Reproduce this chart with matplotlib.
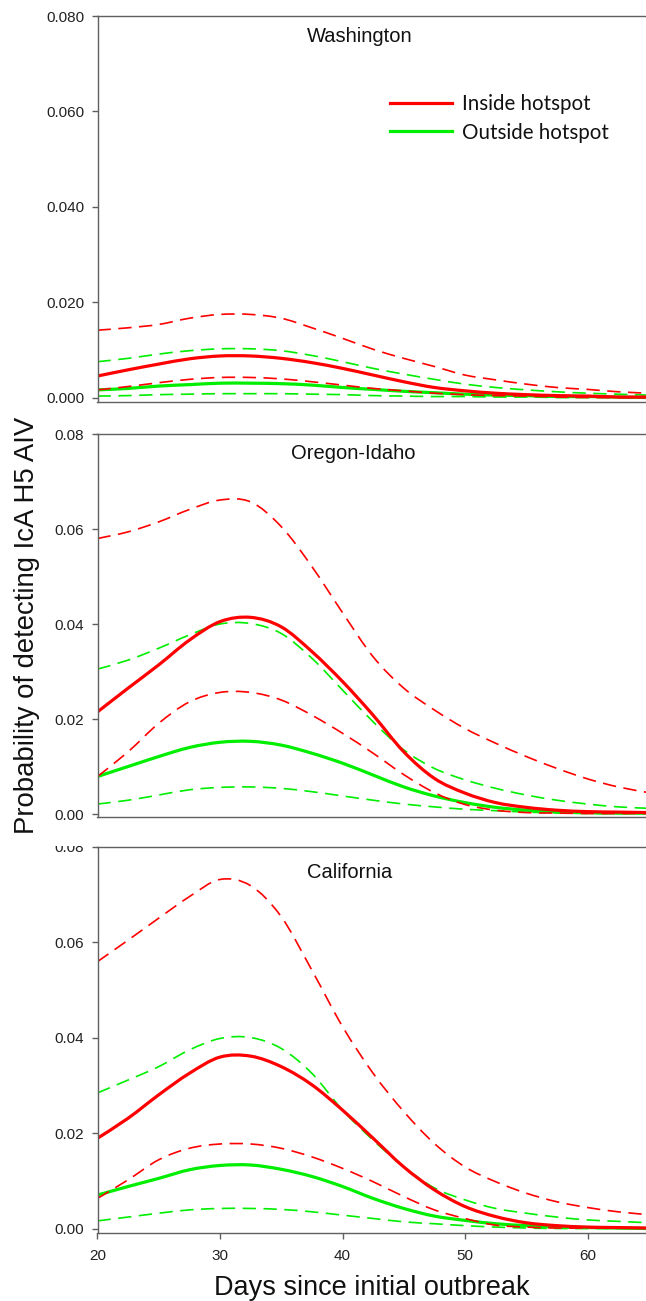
import matplotlib
matplotlib.use("Agg")
import matplotlib.pyplot as plt
from matplotlib.patches import Rectangle, PathPatch
from matplotlib.path import Path
from matplotlib.lines import Line2D

# ---------- data ----------
days = [20, 22.5, 25, 27.5, 30, 32.5, 35, 37.5, 40, 42.5, 45, 47.5, 50,
        52.5, 55, 57.5, 60, 62.5, 65]

# Washington
wa_in = [0.0046, 0.0059, 0.0071, 0.0082, 0.0088, 0.0088, 0.0083, 0.0074, 0.0062, 0.0048,
         0.0034, 0.0022, 0.0015, 0.0010, 0.0007, 0.0005, 0.0004, 0.0002, 0.0002]
wa_in_hi = [0.0142, 0.0147, 0.0154, 0.0167, 0.0175, 0.0175, 0.0167, 0.0147, 0.0125, 0.0102,
            0.0083, 0.0066, 0.0048, 0.0038, 0.0029, 0.0022, 0.0018, 0.0013, 0.0010]
wa_in_lo = [0.0017, 0.0024, 0.0032, 0.0039, 0.0043, 0.0043, 0.0040, 0.0034, 0.0027, 0.0020,
            0.0015, 0.0010, 0.0007, 0.0005, 0.0004, 0.0002, 0.0001, 0.0001, 0.0001]
wa_out = [0.0017, 0.0020, 0.0025, 0.0028, 0.0031, 0.0031, 0.0030, 0.0027, 0.0022, 0.0018,
          0.0014, 0.0011, 0.0008, 0.0006, 0.0005, 0.0003, 0.0003, 0.0002, 0.0001]
wa_out_hi = [0.0076, 0.0083, 0.0092, 0.0099, 0.0103, 0.0103, 0.0099, 0.0089, 0.0076, 0.0062,
             0.0050, 0.0039, 0.0029, 0.0022, 0.0017, 0.0013, 0.0010, 0.0008, 0.0006]
wa_out_lo = [0.0004, 0.0005, 0.0007, 0.0008, 0.0009, 0.0009, 0.0009, 0.0008, 0.0007, 0.0005,
             0.0004, 0.0003, 0.0003, 0.0002, 0.0002, 0.0001, 0.0001, 0.0001, 0.0000]

# Oregon-Idaho
or_in = [0.0215, 0.0265, 0.0314, 0.0366, 0.0405, 0.0414, 0.0394, 0.0342, 0.0279, 0.0208,
         0.0131, 0.0075, 0.0044, 0.0024, 0.0014, 0.0008, 0.0005, 0.0004, 0.0003]
or_in_hi = [0.0580, 0.0594, 0.0615, 0.0641, 0.0661, 0.0657, 0.0605, 0.0521, 0.0424, 0.0331,
            0.0265, 0.0219, 0.0180, 0.0149, 0.0121, 0.0096, 0.0074, 0.0057, 0.0045]
or_in_lo = [0.0079, 0.0131, 0.0191, 0.0236, 0.0256, 0.0256, 0.0240, 0.0208, 0.0170, 0.0128,
            0.0083, 0.0045, 0.0020, 0.0008, 0.0003, 0.0002, 0.0001, 0.0001, 0.0001]
or_out = [0.0079, 0.0100, 0.0121, 0.0140, 0.0151, 0.0153, 0.0145, 0.0128, 0.0107, 0.0082,
          0.0057, 0.0038, 0.0024, 0.0014, 0.0008, 0.0005, 0.0003, 0.0002, 0.0002]
or_out_hi = [0.0305, 0.0324, 0.0349, 0.0377, 0.0400, 0.0401, 0.0380, 0.0328, 0.0261, 0.0194,
             0.0135, 0.0096, 0.0072, 0.0054, 0.0040, 0.0029, 0.0021, 0.0015, 0.0012]
or_out_lo = [0.0021, 0.0029, 0.0040, 0.0051, 0.0056, 0.0057, 0.0054, 0.0047, 0.0038, 0.0029,
             0.0021, 0.0015, 0.0010, 0.0007, 0.0004, 0.0002, 0.0001, 0.0001, 0.0001]

# California
ca_in = [0.0190, 0.0232, 0.0281, 0.0326, 0.0360, 0.0362, 0.0340, 0.0302, 0.0249, 0.0190,
         0.0130, 0.0082, 0.0047, 0.0026, 0.0013, 0.0007, 0.0004, 0.0003, 0.0002]
ca_in_hi = [0.0560, 0.0605, 0.0651, 0.0696, 0.0732, 0.0719, 0.0654, 0.0542, 0.0424, 0.0326,
            0.0246, 0.0179, 0.0130, 0.0099, 0.0075, 0.0057, 0.0045, 0.0036, 0.0030]
ca_in_lo = [0.0064, 0.0103, 0.0145, 0.0169, 0.0178, 0.0178, 0.0169, 0.0151, 0.0127, 0.0099,
            0.0068, 0.0040, 0.0022, 0.0008, 0.0004, 0.0002, 0.0002, 0.0002, 0.0002]
ca_out = [0.0071, 0.0089, 0.0106, 0.0124, 0.0133, 0.0134, 0.0125, 0.0110, 0.0089, 0.0064,
          0.0043, 0.0027, 0.0018, 0.0011, 0.0007, 0.0004, 0.0003, 0.0002, 0.0001]
ca_out_hi = [0.0285, 0.0312, 0.0340, 0.0375, 0.0399, 0.0401, 0.0378, 0.0326, 0.0249, 0.0186,
             0.0130, 0.0086, 0.0061, 0.0043, 0.0033, 0.0025, 0.0019, 0.0016, 0.0013]
ca_out_lo = [0.0017, 0.0025, 0.0033, 0.0040, 0.0043, 0.0043, 0.0041, 0.0036, 0.0029, 0.0022,
             0.0015, 0.0011, 0.0007, 0.0004, 0.0002, 0.0001, 0.0001, 0.0001, 0.0001]

regions = ["Washington", "Oregon-Idaho", "California"]
yticks = [0.0, 0.02, 0.04, 0.06, 0.08]
xticks = [20, 30, 40, 50, 60]

RED = "#ff0000"
GREEN = "#00ee00"
SPINE = "#606060"

plt.rcParams['font.family'] = ['Liberation Sans', 'DejaVu Sans']

W, H = 646, 1301
fig = plt.figure(figsize=(W / 100, H / 100), dpi=100)


def fig_rect(top_px, bottom_px):
    left = 97.5 / W
    width = (648.75 - 97.5) / W
    return [left, 1 - bottom_px / H, width, (bottom_px - top_px) / H]


def smooth_path(x, y):
    # the original curves are smooth, so draw a Catmull-Rom bezier through the points
    n = len(x)
    verts = [(x[0], y[0])]
    codes = [Path.MOVETO]
    for i in range(n - 1):
        i0, i2, i3 = max(i - 1, 0), i + 1, min(i + 2, n - 1)
        c1 = (x[i] + (x[i2] - x[i0]) / 6, y[i] + (y[i2] - y[i0]) / 6)
        c2 = (x[i2] - (x[i3] - x[i]) / 6, y[i2] - (y[i3] - y[i]) / 6)
        verts += [c1, c2, (x[i2], y[i2])]
        codes += [Path.CURVE4] * 3
    return Path(verts, codes)


def draw_curve(ax, y, color, dashed):
    if dashed:
        kw = dict(lw=1.2, linestyle=(0, (8, 4.5)))
    else:
        kw = dict(lw=2.3, capstyle='butt')
    ax.add_patch(PathPatch(smooth_path(days, y), fill=False, edgecolor=color, **kw))


# (top px, bottom spine px, ylim bottom, tick format, title pos)
panels = [
    (16, 402, -0.00084, "%.3f", (0.476, 0.948)),
    (434, 817, -0.00063, "%.2f", (0.4635, 0.948)),
    (847, 1233, -0.00084, "%.2f", (0.458, 0.935)),
]
series = [
    (wa_in, wa_in_hi, wa_in_lo, wa_out, wa_out_hi, wa_out_lo),
    (or_in, or_in_hi, or_in_lo, or_out, or_out_hi, or_out_lo),
    (ca_in, ca_in_hi, ca_in_lo, ca_out, ca_out_hi, ca_out_lo),
]

axes = []
for i, ((top, bot, ylo, fmt, tpos), data) in enumerate(zip(panels, series)):
    ax = fig.add_axes(fig_rect(top, bot))
    ins, ins_hi, ins_lo, out, out_hi, out_lo = data

    draw_curve(ax, out_hi, GREEN, True)
    draw_curve(ax, out_lo, GREEN, True)
    draw_curve(ax, out, GREEN, False)
    draw_curve(ax, ins_hi, RED, True)
    draw_curve(ax, ins_lo, RED, True)
    draw_curve(ax, ins, RED, False)

    ax.set_xlim(20, 65)
    ax.set_ylim(ylo, 0.08)
    ax.set_yticks(yticks)
    ax.yaxis.set_major_formatter(matplotlib.ticker.FormatStrFormatter(fmt))
    for s in ax.spines.values():
        s.set_color(SPINE)
        s.set_linewidth(1.0)
    ax.tick_params(axis='y', direction='out', length=4.5, width=1.0, color=SPINE,
                   labelsize=11, labelcolor='#222222', pad=5)
    if i < 2:
        ax.tick_params(axis='x', bottom=False, labelbottom=False)
    else:
        ax.set_xticks(xticks)
        ax.tick_params(axis='x', direction='out', length=4.5, width=1.0, color=SPINE,
                       labelsize=11, labelcolor='#222222', pad=7)
    ax.text(tpos[0], tpos[1], regions[i], transform=ax.transAxes, ha='center',
            va='center', fontsize=14.5, color='#111111')
    axes.append(ax)

# legend in the top panel
handles = [Line2D([], [], color=RED, lw=2.3), Line2D([], [], color=GREEN, lw=2.3)]
leg = axes[0].legend(handles, ["Inside hotspot", "Outside hotspot"],
                     loc='upper left', bbox_to_anchor=(390 / W, 1 - 94 / H),
                     bbox_transform=fig.transFigure, frameon=False,
                     borderpad=0, borderaxespad=0, handlelength=3.0,
                     handletextpad=0.5, labelspacing=0.42,
                     prop={'family': 'Lato', 'size': 14.8})
for t in leg.get_texts():
    t.set_color('#111111')

# top of the bottom panel's "0.08" label is hidden by the panel above
fig.patches.append(Rectangle((40 / W, 1 - 846 / H), 56 / W, 24 / H,
                             transform=fig.transFigure, facecolor='white',
                             edgecolor='none', zorder=10))

fig.text(27 / W, 1 - 625 / H, "Probability of detecting IcA H5 AIV", rotation=90,
         ha='center', va='center', fontsize=19.8, color='#111111')
fig.text(372 / W, 1 - 1295 / H, "Days since initial outbreak", ha='center',
         va='baseline', fontsize=19.5, color='#111111')

fig.savefig("out.png", dpi=100)
